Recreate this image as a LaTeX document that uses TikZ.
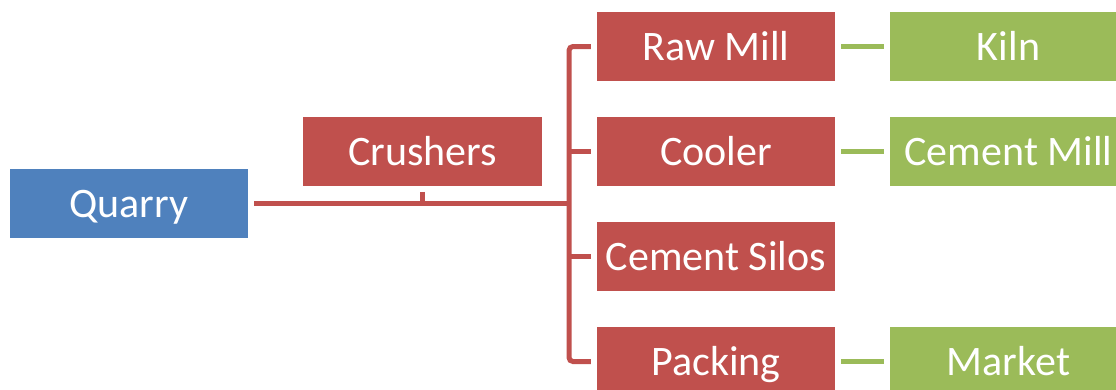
\documentclass[tikz,border=0pt]{standalone}
\usepackage{fontspec}
\setmainfont{Carlito}
\definecolor{boxblue}{HTML}{4F81BD}
\definecolor{boxred}{HTML}{C0504D}
\definecolor{boxgreen}{HTML}{9BBB59}
\tikzset{
  blk/.style={rectangle, inner sep=0pt, minimum width=238pt, minimum height=68.5pt,
    text=white, font=\fontsize{42}{42}\selectfont, text height=27pt, text depth=0pt},
  bluebox/.style={blk, fill=boxblue},
  redbox/.style={blk, fill=boxred},
  greenbox/.style={blk, fill=boxgreen},
  redline/.style={draw=boxred, line width=5pt},
  greenline/.style={draw=boxgreen, line width=5pt}
}
\begin{document}
\begin{tikzpicture}[x=1pt,y=-1pt]
\useasboundingbox (0,0) rectangle (1116,389);
\clip (0,0) rectangle (1116,389);
% process stages
\node[bluebox] (quarry) at (129,203.5) {Quarry};
\node[redbox, minimum width=239pt] (crushers) at (422.5,151.5) {Crushers};
\node[redbox] (rawmill) at (716,46.5) {Raw Mill};
\node[redbox] (cooler) at (716,151.5) {Cooler};
\node[redbox] (silos) at (716,256.5) {Cement Silos};
\node[redbox] (packing) at (716,361.5) {Packing};
\node[greenbox] (kiln) at (1008.5,46.5) {Kiln};
\node[greenbox] (cementmill) at (1008.5,151.5) {Cement Mill};
\node[greenbox] (market) at (1008.5,361.5) {Market};
% vertical bus line
\coordinate (bus) at (569,0);
% feed from the quarry to the bus
\draw[redline] ([xshift=6pt]quarry.east) -- (quarry.east -| bus);
\draw[redline] ([yshift=-6pt]crushers.south) -- (crushers.south |- quarry.east);
% bus with branches to each stage
\draw[redline, rounded corners=4pt] ([xshift=-6pt]rawmill.west) -- (rawmill.west -| bus)
  -- (packing.west -| bus) -- ([xshift=-6pt]packing.west);
\draw[redline] (cooler.west -| bus) -- ([xshift=-6pt]cooler.west);
\draw[redline] (silos.west -| bus) -- ([xshift=-6pt]silos.west);
% onward links
\draw[greenline] ([xshift=6pt]rawmill.east) -- ([xshift=-5.5pt]kiln.west);
\draw[greenline] ([xshift=6pt]cooler.east) -- ([xshift=-5.5pt]cementmill.west);
\draw[greenline] ([xshift=6pt]packing.east) -- ([xshift=-5.5pt]market.west);
\end{tikzpicture}
\end{document}
